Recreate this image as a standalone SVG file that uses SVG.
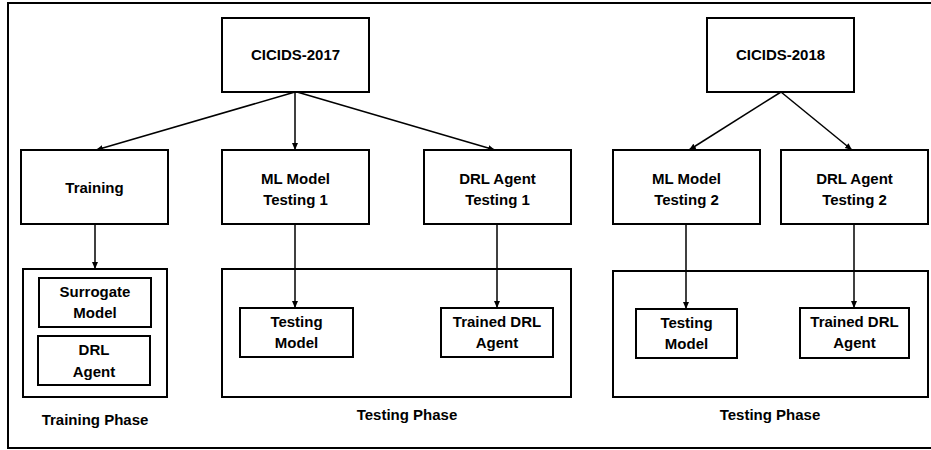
<svg xmlns="http://www.w3.org/2000/svg" width="931" height="450" viewBox="0 0 931 450">
  <style>
    .box { fill: #ffffff; stroke: #000000; stroke-width: 2; }
    .frame { fill: none; stroke: #000000; stroke-width: 2; }
    .label { font-family: "Liberation Sans", Arial, sans-serif; font-weight: bold; font-size: 15px; fill: #000000; text-anchor: middle; }
    .link { stroke: #000000; stroke-width: 1.5; fill: none; marker-end: url(#arrow); }
  </style>
  <defs>
    <marker id="arrow" markerUnits="userSpaceOnUse" markerWidth="8" markerHeight="8" refX="7" refY="4" orient="auto">
      <path d="M0,1 L7,4 L0,7 Z" fill="#000000"/>
    </marker>
  </defs>

  <rect width="931" height="450" fill="#ffffff"/>
  <!-- outer border -->
  <rect class="frame" x="8" y="3" width="930" height="445"/>

  <!-- phase containers -->
  <g id="training-phase">
    <rect class="box" x="23" y="269" width="144" height="128"/>
    <text class="label" x="95" y="425">Training Phase</text>
  </g>
  <g id="testing-phase-1">
    <rect class="box" x="222" y="269" width="349" height="128"/>
    <text class="label" x="407" y="420">Testing Phase</text>
  </g>
  <g id="testing-phase-2">
    <rect class="box" x="613" y="271" width="315" height="126"/>
    <text class="label" x="770" y="420">Testing Phase</text>
  </g>

  <!-- datasets -->
  <g id="cicids-2017">
    <rect class="box" x="222" y="18" width="147" height="74"/>
    <text class="label" x="295.5" y="60">CICIDS-2017</text>
  </g>
  <g id="cicids-2018">
    <rect class="box" x="707" y="18" width="147" height="74"/>
    <text class="label" x="780.5" y="60">CICIDS-2018</text>
  </g>

  <!-- second row -->
  <g id="training">
    <rect class="box" x="21" y="150" width="147" height="74"/>
    <text class="label" x="94.5" y="193">Training</text>
  </g>
  <g id="ml-model-testing-1">
    <rect class="box" x="222" y="150" width="147" height="74"/>
    <text class="label" x="295.5" y="183.5">ML Model</text>
    <text class="label" x="295.5" y="204.5">Testing 1</text>
  </g>
  <g id="drl-agent-testing-1">
    <rect class="box" x="424" y="150" width="147" height="74"/>
    <text class="label" x="497.5" y="183.5">DRL Agent</text>
    <text class="label" x="497.5" y="204.5">Testing 1</text>
  </g>
  <g id="ml-model-testing-2">
    <rect class="box" x="613" y="150" width="147" height="74"/>
    <text class="label" x="686.5" y="183.5">ML Model</text>
    <text class="label" x="686.5" y="204.5">Testing 2</text>
  </g>
  <g id="drl-agent-testing-2">
    <rect class="box" x="781" y="150" width="147" height="74"/>
    <text class="label" x="854.5" y="183.5">DRL Agent</text>
    <text class="label" x="854.5" y="204.5">Testing 2</text>
  </g>

  <!-- inner components -->
  <g id="surrogate-model">
    <rect class="box" x="39" y="278" width="112" height="49"/>
    <text class="label" x="95" y="297">Surrogate</text>
    <text class="label" x="95" y="318">Model</text>
  </g>
  <g id="drl-agent">
    <rect class="box" x="38" y="336" width="112" height="49"/>
    <text class="label" x="94" y="355">DRL</text>
    <text class="label" x="94" y="377">Agent</text>
  </g>
  <g id="testing-model-1">
    <rect class="box" x="240" y="308" width="113" height="49"/>
    <text class="label" x="296.5" y="327">Testing</text>
    <text class="label" x="296.5" y="348">Model</text>
  </g>
  <g id="trained-drl-agent-1">
    <rect class="box" x="441" y="308" width="112" height="49"/>
    <text class="label" x="497" y="327">Trained DRL</text>
    <text class="label" x="497" y="348">Agent</text>
  </g>
  <g id="testing-model-2">
    <rect class="box" x="636" y="309" width="101" height="49"/>
    <text class="label" x="686.5" y="328">Testing</text>
    <text class="label" x="686.5" y="349">Model</text>
  </g>
  <g id="trained-drl-agent-2">
    <rect class="box" x="800" y="308" width="109" height="50"/>
    <text class="label" x="854.5" y="327">Trained DRL</text>
    <text class="label" x="854.5" y="348">Agent</text>
  </g>

  <!-- connectors -->
  <g id="connectors">
    <line class="link" x1="295" y1="92" x2="96" y2="150"/>
    <line class="link" x1="295" y1="92" x2="295" y2="150"/>
    <line class="link" x1="297" y1="92" x2="495" y2="150"/>
    <line class="link" x1="781" y1="92" x2="689" y2="150"/>
    <line class="link" x1="781" y1="92" x2="852" y2="150"/>
    <line class="link" x1="95" y1="224" x2="95" y2="269"/>
    <line class="link" x1="295" y1="224" x2="295" y2="308"/>
    <line class="link" x1="497" y1="224" x2="497" y2="308"/>
    <line class="link" x1="686" y1="224" x2="686" y2="309"/>
    <line class="link" x1="854" y1="224" x2="854" y2="308"/>
  </g>
</svg>
